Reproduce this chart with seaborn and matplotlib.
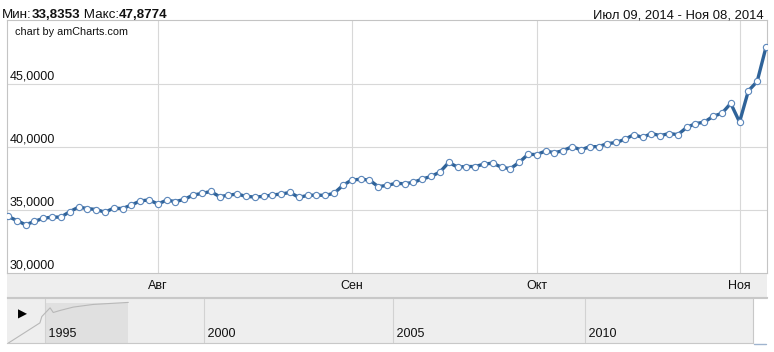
import matplotlib
matplotlib.use("Agg")
import matplotlib.pyplot as plt
import matplotlib.transforms as mtransforms
from matplotlib.patches import Rectangle
from matplotlib.lines import Line2D
import numpy as np
import pandas as pd
import seaborn as sns

# ---------------- data ----------------
dates = (
    ["2014-07-%02d" % d for d in [9, 10, 11, 12, 15, 16, 17, 18, 19, 22, 23, 24, 25, 26, 29, 30, 31]]
    + ["2014-08-%02d" % d for d in [1, 2, 5, 6, 7, 8, 9, 12, 13, 14, 15, 16, 19, 20, 21, 22, 23, 26, 27, 28, 29, 30]]
    + ["2014-09-%02d" % d for d in [2, 3, 4, 5, 6, 9, 10, 11, 12, 13, 16, 17, 18, 19, 20, 23, 24, 25, 26, 27, 30]]
    + ["2014-10-%02d" % d for d in [1, 2, 3, 4, 7, 8, 9, 10, 11, 14, 15, 16, 17, 18, 21, 22, 23, 24, 25, 28, 29, 30, 31]]
    + ["2014-11-%02d" % d for d in [1, 6, 7, 8]]
)
rates = [
    34.50, 34.17, 33.8353, 34.10, 34.35, 34.44, 34.44, 34.87, 35.23, 35.12,
    35.04, 34.83, 35.15, 35.12, 35.40, 35.72, 35.80, 35.48, 35.78, 35.67,
    35.84, 36.19, 36.31, 36.47, 36.06, 36.17, 36.27, 36.08, 36.03, 36.08,
    36.19, 36.27, 36.39, 36.00, 36.16, 36.18, 36.16, 36.33, 36.95, 37.38,
    37.43, 37.38, 36.85, 36.95, 37.11, 37.08, 37.19, 37.45, 37.66, 38.00,
    38.76, 38.40, 38.44, 38.44, 38.63, 38.71, 38.38, 38.27, 38.77, 39.40,
    39.39, 39.67, 39.53, 39.70, 40.01, 39.76, 40.01, 40.01, 40.25, 40.34,
    40.59, 40.96, 40.74, 41.05, 40.88, 41.05, 40.96, 41.53, 41.83, 41.95,
    42.41, 42.65, 43.43, 41.96, 44.42, 45.17, 47.8774,
]
month_names = {8: "Авг", 9: "Сен", 10: "Окт", 11: "Ноя"}
y_ticks = [30, 35, 40, 45]
y_range = (30, 50)

scroll_years = [1993.85, 1994.84, 1994.90, 1995.16, 1995.26, 1995.47, 1995.89, 1996.52, 1997.62]
scroll_rates = [1.20, 3.39, 4.08, 5.03, 4.52, 4.74, 5.11, 5.40, 5.62]
year_labels = [1995, 2000, 2005, 2010]

header_min = "33,8353"
header_max = "47,8774"
header_range = "Июл 09, 2014 - Ноя 08, 2014"

# ---------------- style ----------------
W, H = 774, 352
sns.set_theme(style="white")
plt.rcParams["font.family"] = ["Liberation Sans", "DejaVu Sans"]

LINE = "#2f6399"
MEDGE = "#5b86ba"
GRID = "#d8d8d8"
BORDER = "#c4c4c4"
BAND = "#eeeeee"

fig = plt.figure(figsize=(W / 100, H / 100), dpi=100)
fig.patch.set_facecolor("white")


def box(l, t, r, b):
    return [l / W, 1 - b / H, (r - l) / W, (b - t) / H]


def fx(px):
    return px / W


def fy(py):
    return 1 - py / H


# ---------------- main chart ----------------
L, T, R, B = 7.3, 20.3, 766.7, 273.3
df = pd.DataFrame({"date": pd.to_datetime(dates), "rate": rates})
df["idx"] = np.arange(len(df))

# axis label band (own background axes, drawn beneath)
band = fig.add_axes(box(L, B, R, 297.3), zorder=-1)
band.set_facecolor(BAND)
band.set_xticks([])
band.set_yticks([])
for s in band.spines.values():
    s.set_visible(False)
band.spines["bottom"].set_visible(True)
band.spines["bottom"].set_color("#c8c8c8")
band.spines["bottom"].set_linewidth(0.8)

ax = fig.add_axes(box(L, T, R, B), zorder=2)
ax.set_facecolor("white")
n = len(df)
ax.set_xlim(-0.08, n - 1 + 0.08)
ax.set_ylim(*y_range)

month_start = df.groupby(df["date"].dt.month)["idx"].min()
month_start = month_start[month_start.index.isin(list(month_names.keys()))]
for i in month_start.values:
    ax.axvline(i, color=GRID, lw=0.8, zorder=1)
for v in y_ticks[1:]:
    ax.axhline(v, color=GRID, lw=0.8, zorder=1)

sns.lineplot(data=df, x="idx", y="rate", ax=ax, color=LINE, linewidth=2.4,
             marker="o", markersize=4.5, markerfacecolor="white",
             markeredgecolor=MEDGE, markeredgewidth=0.8, zorder=3)

ax.set_xticks(month_start.values)
ax.set_xticklabels([month_names[m] for m in month_start.index], fontsize=9, color="#111111")
ax.tick_params(axis="x", length=0, pad=4.5, bottom=True, labelbottom=True)
ax.set_yticks([])
ax.set_xlabel("")
ax.set_ylabel("")
for s in ax.spines.values():
    s.set_color(BORDER)
    s.set_linewidth(0.8)

trans = mtransforms.blended_transform_factory(ax.transAxes, ax.transData)
px_per_unit = (B - T) / (y_range[1] - y_range[0])
for v in y_ticks:
    ax.text((10 - L) / (R - L), v + 4.3 / px_per_unit, f"{v:.4f}".replace(".", ","),
            transform=trans, ha="left", va="baseline", fontsize=9, color="#111111", zorder=4)

fig.text(fx(15), fy(35), "chart by amCharts.com", fontsize=7.8, color="#111111",
         ha="left", va="baseline", zorder=10)

# ---------------- header ----------------
renderer = fig.canvas.get_renderer()
xcur = 1.7
for txt, w in [("Мин:", "normal"), (header_min, "bold"), (" Макс:", "normal"), (header_max, "bold")]:
    t = fig.text(fx(xcur), fy(18.3), txt, fontsize=9.6, fontweight=w, ha="left", va="baseline", color="#111111")
    bb = t.get_window_extent(renderer=renderer)
    xcur += bb.width
fig.text(fx(763.5), fy(18.3), header_range, fontsize=9.4, ha="right", va="baseline", color="#111111")

# ---------------- scrollbar ----------------
SL, ST, SR, SB = 7.0, 298.0, 752.7, 343.0
ax2 = fig.add_axes(box(SL, ST, SR, SB))
ax2.set_facecolor(BAND)

yr_knots = np.array([1985.0, 1995.0, 2000.0, 2005.0, 2010.0, 2025.0])
u_knots = np.array([38 - 10 * 31.8, 38.0, 197.0, 385.7, 578.0, 578.0 + 15 * 38.5])


def fwd(y):
    return np.interp(y, yr_knots, u_knots)


def inv(u):
    return np.interp(u, u_knots, yr_knots)


ax2.set_xscale("function", functions=(fwd, inv))
ax2.set_xlim(float(inv(0.0)), float(inv(SR - SL)))
ax2.set_ylim(1.2, 6.1)

sel_top = 1.2 + (SB - 302.7) / (SB - ST) * (6.1 - 1.2)
ax2.add_patch(Rectangle((1995.0, 1.2), scroll_years[-1] - 1995.0, sel_top - 1.2,
                        facecolor="#e0e0e0", edgecolor="none", zorder=1))
for yv in year_labels:
    ax2.axvline(yv, color="#d2d2d2", lw=0.8, zorder=1.5)
    ax2.text(yv, 0.2, f" {yv}", transform=mtransforms.blended_transform_factory(ax2.transData, ax2.transAxes),
             ha="left", va="center", fontsize=9, color="#111111", zorder=4)
sns.lineplot(x=scroll_years, y=scroll_rates, ax=ax2, color="#b8b8b8", linewidth=0.8, zorder=2)
ax2.text((22 - SL) / (SR - SL), (SB - 314) / (SB - ST), "▶", transform=ax2.transAxes,
         family="DejaVu Sans", fontsize=8.5, ha="center", va="center", color="black", zorder=5)
ax2.set_xticks([])
ax2.set_yticks([])
ax2.set_xlabel("")
ax2.set_ylabel("")
for k, s in ax2.spines.items():
    s.set_color("#c8c8c8")
    s.set_linewidth(0.8)
ax2.spines["left"].set_visible(False)

fig.lines.append(Line2D([fx(SR), fx(766.7)], [fy(ST), fy(ST)], transform=fig.transFigure,
                        color="#c8c8c8", lw=0.8))
fig.lines.append(Line2D([fx(SR + 1), fx(766.0)], [fy(SB + 0.5), fy(SB + 0.5)], transform=fig.transFigure,
                        color="#9fb4cf", lw=1.0))

fig.savefig("out.png", dpi=100, facecolor="white")
